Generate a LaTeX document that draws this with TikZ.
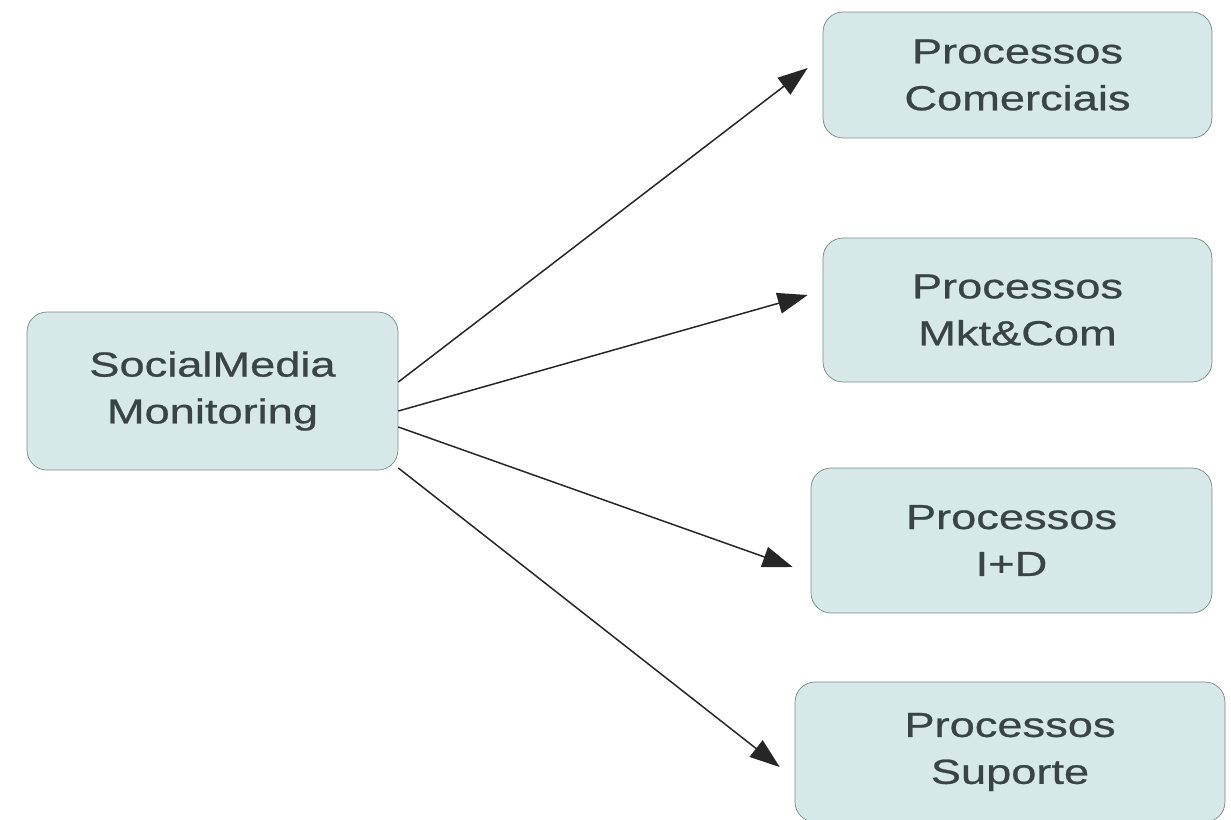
\documentclass[tikz,border=0pt]{standalone}
\usepackage{fontspec}
\setmainfont{Liberation Sans}[FakeStretch=1.3, FakeBold=0.7]
\usepackage{xcolor}
\usepackage{tikz}
\usetikzlibrary{shapes, arrows.meta, positioning}

\definecolor{boxfill}{RGB}{214,232,232}
\definecolor{boxline}{RGB}{120,138,138}
\definecolor{boxtext}{RGB}{56,68,70}

\begin{document}
\begin{tikzpicture}[x=0.02cm, y=-0.02cm,
            proc/.style={draw=boxline, fill=boxfill, rectangle, rounded corners=0.4cm, align=center,
                text=boxtext, font=\fontsize{19.8}{26.7}\selectfont},
            link/.style={-{Triangle[length=0.6cm, width=0.42cm]}, line width=0.85pt, draw=black!85}]
            \useasboundingbox (0,0) rectangle (1231,819);
            \clip (0,0) rectangle (1231,819);
            \fill[white] (0,0) rectangle (1231,819);

            \node[proc, minimum width=7.42cm, minimum height=3.16cm] (social) at (212.5,391) {SocialMedia\\Monitoring};
            \node[proc, minimum width=7.78cm, minimum height=2.52cm] (comerc) at (1017.5,75) {Processos\\Comerciais};
            \node[proc, minimum width=7.78cm, minimum height=2.88cm] (mktcom) at (1017.5,310) {Processos\\Mkt\&Com};
            \node[proc, minimum width=8.02cm, minimum height=2.9cm] (iemd) at (1011.5,540.5) {Processos\\I+D};
            \node[proc, minimum width=8.6cm, minimum height=2.8cm] (suporte) at (1010,752) {Processos\\Suporte};

            \draw[link] ([yshift=0.18cm]social.east) -- ([xshift=-0.3cm, yshift=0.14cm]comerc.west);
            \draw[link] ([yshift=-0.4cm]social.east) -- ([xshift=-0.3cm, yshift=0.3cm]mktcom.west);
            \draw[link] ([yshift=-0.72cm]social.east) -- ([xshift=-0.36cm, yshift=-0.53cm]iemd.west);
            \draw[link] ([yshift=-1.54cm]social.east) -- ([xshift=-0.3cm, yshift=-0.3cm]suporte.west);
        \end{tikzpicture}
\end{document}
